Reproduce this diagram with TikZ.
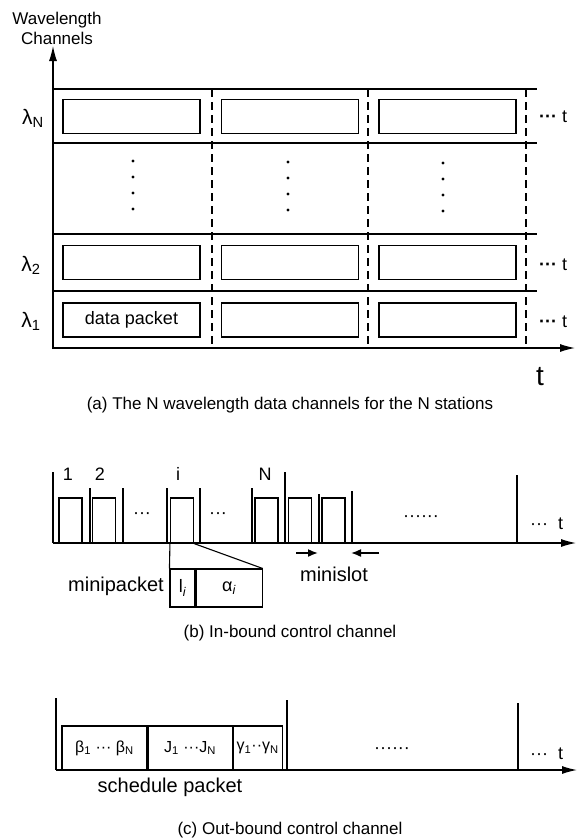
\documentclass[tikz,border=0pt]{standalone}
\usepackage{fontspec}
\setmainfont{Liberation Sans}
\usetikzlibrary{arrows.meta}

\begin{document}
\begin{tikzpicture}[x=1pt, y=-1pt,
    packet/.style={rectangle, draw, line width=1.1pt, minimum width=137pt, minimum height=34pt, inner sep=0pt, font=\fontsize{18}{21}\selectfont},
    mini/.style={rectangle, draw, line width=1.1pt, minimum width=23pt, minimum height=45pt, inner sep=0pt},
    field/.style={rectangle, draw, line width=1.1pt, minimum height=44pt, inner sep=0pt, font=\fontsize{16}{19}\selectfont},
    slotline/.style={line width=1.1pt},
    divider/.style={line width=1.1pt, dash pattern=on 8pt off 5pt},
    axis/.style={-{Latex[length=15pt,width=8pt]}, line width=1.2pt},
    arrow/.style={-{Latex[length=10pt,width=8pt]}, line width=1.6pt},
    label/.style={inner sep=0pt, font=\fontsize{18}{21}\selectfont},
    caption/.style={inner sep=0pt, font=\fontsize{17}{20}\selectfont}
]
    \useasboundingbox (0,0) rectangle (580,839);

    % (a) Data channels
    \node[label, align=center, font=\fontsize{17}{20}\selectfont] (ylabel) at (57,28) {Wavelength\\Channels};
    \draw[axis] (53,349) -- (53,46);
    \draw[axis] (53,348) -- (575,348);
    \node[inner sep=0pt, font=\fontsize{28}{32}\selectfont] (tbig) at (540,377) {t};

    % Channel rows
    \draw[slotline] (53,89) -- (537,89);
    \draw[slotline] (53,143) -- (537,143);
    \draw[slotline] (53,234) -- (537,234);
    \draw[slotline] (53,291) -- (537,291);

    % Slot boundaries
    \draw[divider] (212,89) -- (212,348);
    \draw[divider] (368,89) -- (368,348);
    \draw[divider] (526,89) -- (526,348);

    % Wavelength labels
    \node[label, font=\fontsize{21}{24}\selectfont] (lamN) at (33,118) {λ\textsubscript{N}};
    \node[label, font=\fontsize{21}{24}\selectfont] (lam2) at (31,265) {λ\textsubscript{2}};
    \node[label, font=\fontsize{21}{24}\selectfont] (lam1) at (31,321) {λ\textsubscript{1}};

    % Packets
    \node[packet] (pN1) at (131.5,116.5) {};
    \node[packet] (pN2) at (290,116.5) {};
    \node[packet] (pN3) at (447.5,116.5) {};
    \node[packet] (p21) at (131.5,262.5) {};
    \node[packet] (p22) at (290,262.5) {};
    \node[packet] (p23) at (447.5,262.5) {};
    \node[packet] (p11) at (131.5,320) {data packet};
    \node[packet] (p12) at (290,320) {};
    \node[packet] (p13) at (447.5,320) {};

    % Continuation
    \node[label, anchor=west] (moreN) at (539,117) {\textbf{···} t};
    \node[label, anchor=west] (more2) at (539,265) {\textbf{···} t};
    \node[label, anchor=west] (more1) at (539,322) {\textbf{···} t};

    % Vertical dots
    \fill (133,161) circle (1.6pt) (133,177) circle (1.6pt) (133,193) circle (1.6pt) (133,209) circle (1.6pt);
    \fill (288,162) circle (1.6pt) (288,178) circle (1.6pt) (288,194) circle (1.6pt) (288,210) circle (1.6pt);
    \fill (443,163) circle (1.6pt) (443,179) circle (1.6pt) (443,195) circle (1.6pt) (443,211) circle (1.6pt);

    \node[caption] (capa) at (290,405) {(a) The N wavelength data channels for the N stations};

    % (b) In-bound control channel
    \draw[axis] (53,543) -- (576,543);
    \draw[slotline] (53,472) -- (53,543);
    \draw[slotline] (90,488) -- (90,543);
    \draw[slotline] (123,488) -- (123,543);
    \draw[slotline] (167,488) -- (167,543);
    \draw[slotline] (200,488) -- (200,543);
    \draw[slotline] (252,488) -- (252,543);
    \draw[slotline] (285,472) -- (285,543);
    \draw[slotline] (319,494) -- (319,543);
    \draw[slotline] (352,491) -- (352,543);
    \draw[slotline] (517,475) -- (517,543);

    \node[mini] (m1) at (70.5,520.5) {};
    \node[mini] (m2) at (104,520.5) {};
    \node[mini] (mi) at (182,520.5) {};
    \node[mini] (mN) at (266.5,520.5) {};
    \node[mini] (mN1) at (300,520.5) {};
    \node[mini] (mN2) at (333.5,520.5) {};

    \node[label] (n1) at (68,474) {1};
    \node[label] (n2) at (100,474) {2};
    \node[label] (ni) at (178,474) {i};
    \node[label] (nN) at (265,474) {N};

    \node[label] (dotsb1) at (142,516) {···};
    \node[label] (dotsb2) at (218,516) {···};
    \node[label] (dotsb3) at (421,519) {······};
    \node[label, anchor=west] (moreb) at (530,524) {···\hspace{10pt}t};

    % Minislot
    \coordinate (ms1) at (296,553);
    \coordinate (ms2) at (318,553);
    \coordinate (ms3) at (379,553);
    \coordinate (ms4) at (351,553);
    \draw[arrow] (ms1) -- (ms2);
    \draw[arrow] (ms3) -- (ms4);
    \node[label, font=\fontsize{20}{24}\selectfont] (minislot) at (334,574) {minislot};

    % Minipacket
    \node[rectangle, draw, line width=1.1pt, minimum width=25pt, minimum height=38pt, inner sep=0pt, font=\fontsize{18}{21}\selectfont] (len) at (182.5,588) {l\textsubscript{\itshape i}};
    \node[rectangle, draw, line width=1.1pt, minimum width=66pt, minimum height=38pt, inner sep=0pt, font=\fontsize{18}{21}\selectfont, anchor=west] (alpha) at (len.east) {α\textsubscript{\itshape i}};
    \draw[slotline] (mi.south west) -- (len.north west);
    \draw[slotline] (mi.south east) -- (alpha.north east);
    \node[label, font=\fontsize{20}{24}\selectfont, anchor=east] (minipacket) at (164,586) {minipacket};

    \node[caption] (capb) at (290,633) {(b) In-bound control channel};

    % (c) Out-bound control channel
    \draw[axis] (56,770) -- (577,770);
    \draw[slotline] (56,698) -- (56,770);
    \draw[slotline] (287,700) -- (287,770);
    \draw[slotline] (518,703) -- (518,770);

    \node[field, minimum width=85pt] (beta) at (104.5,748) {β\textsubscript{1} ··· β\textsubscript{N}};
    \node[field, minimum width=84pt, anchor=west] (jit) at (beta.east) {J\textsubscript{1} ···J\textsubscript{N}};
    \node[field, minimum width=49pt, anchor=west] (gam) at (jit.east) {γ\textsubscript{1}··γ\textsubscript{N}};
    \node[label, font=\fontsize{20}{24}\selectfont] (sched) at (170,787) {schedule packet};

    \node[label] (dotsc) at (392,751) {······};
    \node[label, anchor=west] (morec) at (530,754) {···\hspace{10pt}t};

    \node[caption] (capc) at (290,830) {(c) Out-bound control channel};
\end{tikzpicture}
\end{document}
